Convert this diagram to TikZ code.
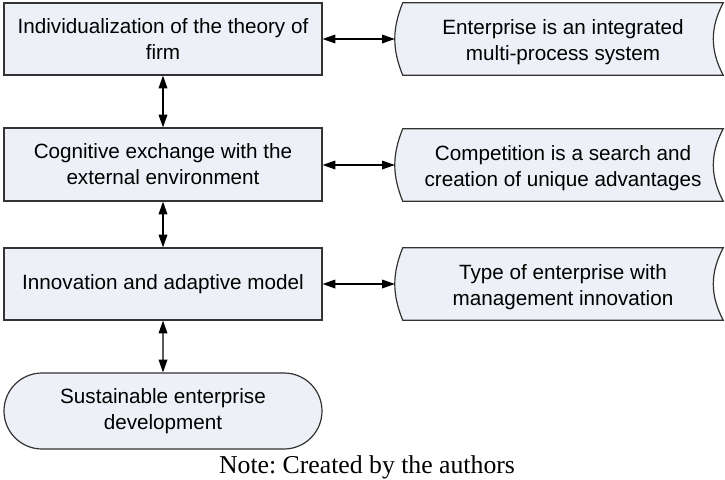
\documentclass[tikz,border=0pt]{standalone}
\usepackage{fontspec}
\setmainfont{Liberation Sans}
\newfontfamily\notefont{Liberation Serif}
\usetikzlibrary{arrows.meta,shapes.misc}
\definecolor{boxfill}{HTML}{EDF0F6}
\definecolor{boxline}{HTML}{333333}
\tikzset{
  x=0.75pt, y=-0.75pt,
  base/.style={fill=boxfill, draw=boxline, line width=0.9pt, align=center, inner sep=0pt,
    font=\fontsize{15.5pt}{19.5pt}\selectfont},
  procbox/.style={base, rectangle, minimum width=238.5pt},
  termbox/.style={base, rounded rectangle, minimum width=238.5pt, minimum height=57pt},
  storebox/.style={align=center, inner sep=0pt, minimum width=240pt, minimum height=54pt,
    font=\fontsize{15.5pt}{19.5pt}\selectfont},
  storeline/.style={fill=boxfill, draw=boxline, line width=0.9pt},
  biarrow/.style={draw=black, line width=0.9pt, {Triangle[length=9.5pt,width=6.5pt]}-{Triangle[length=9.5pt,width=6.5pt]}}
}
\newcommand{\storeshape}[1]{%
  \path[storeline] (#1.north west) to[bend right=22] (#1.south west) -- (#1.south east)
    to[bend left=28] (#1.north east) -- cycle;}
\begin{document}
\frenchspacing
\begin{tikzpicture}
\useasboundingbox (0,0) rectangle (725,479);

\node[procbox, minimum height=54pt] (b1) at (163,39) {Individualization of the theory of\\firm};
\node[procbox, minimum height=54.75pt] (b2) at (163,164.5) {Cognitive exchange with the\\external environment};
\node[procbox, minimum height=54pt] (b3) at (163,284) {Innovation and adaptive model};
\node[termbox] (b4) at (163,411) {Sustainable enterprise\\development};

\path (563,39) coordinate (c1) (563,165) coordinate (c2) (563,284) coordinate (c3);
\node[storebox] (r1s) at (c1) {};
\node[storebox] (r2s) at (c2) {};
\node[storebox] (r3s) at (c3) {};
\storeshape{r1s}
\storeshape{r2s}
\storeshape{r3s}
\node[storebox, yshift=-2pt] (r1) at (c1) {Enterprise is an integrated\\multi-process system};
\node[storebox, yshift=-2pt] (r2) at (c2) {Competition is a search and\\creation of unique advantages};
\node[storebox, yshift=-2pt] (r3) at (c3) {Type of enterprise with\\management innovation};

\coordinate (t1) at ([xshift=-6pt]r1s.west);
\coordinate (t2) at ([xshift=-6pt]r2s.west);
\coordinate (t3) at ([xshift=-6pt]r3s.west);

\draw[biarrow] (b1) -- (b2);
\draw[biarrow] (b2) -- (b3);
\draw[biarrow] (b3) -- (b4);
\draw[biarrow] (b1.east) -- (t1);
\draw[biarrow] (b2.east |- t2) -- (t2);
\draw[biarrow] (b3.east) -- (t3);

\node[anchor=base, inner sep=0pt, font=\notefont\fontsize{19.3pt}{23pt}\selectfont] (note) at (367,473) {Note: Created by the authors};
\end{tikzpicture}
\end{document}
